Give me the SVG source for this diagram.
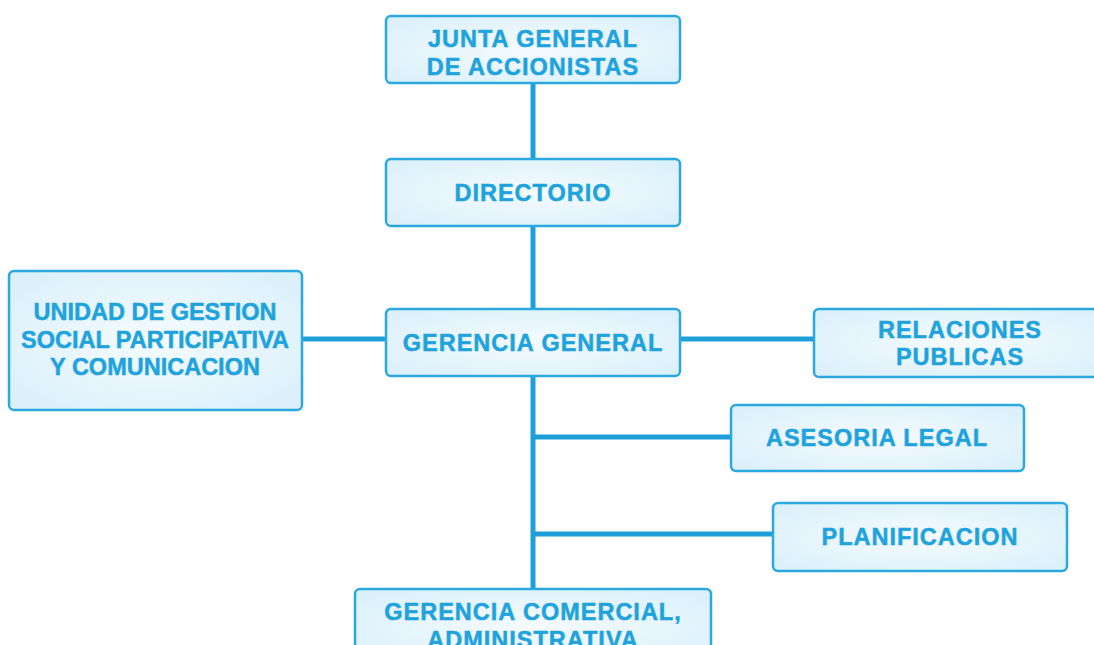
<svg xmlns="http://www.w3.org/2000/svg" width="1094" height="645" viewBox="0 0 1094 645">
  <defs>
    <radialGradient id="boxFill" cx="50%" cy="50%" r="70%">
      <stop offset="0" stop-color="#f4fbfe"/>
      <stop offset="1" stop-color="#d9effa"/>
    </radialGradient>
    <style>
      .box { fill: url(#boxFill); stroke: #2aa8e0; stroke-width: 2.5; }
      .lbl { font-family: "Liberation Sans", Arial, sans-serif; font-weight: bold; font-size: 23.5px; letter-spacing: 1px; fill: #1fa3dd; text-anchor: middle; stroke: #1fa3dd; stroke-width: 0.5; }
      .lbl.tight { letter-spacing: 0; }
      .wire { stroke: #1f9fda; stroke-width: 5; fill: none; }
    </style>
  </defs>
  <rect width="1094" height="645" fill="#ffffff"/>

  <g id="connectors">
    <line class="wire" x1="533" y1="83" x2="533" y2="590"/>
    <line class="wire" x1="302" y1="339" x2="386" y2="339"/>
    <line class="wire" x1="680" y1="339" x2="814" y2="339"/>
    <line class="wire" x1="533" y1="437" x2="731" y2="437"/>
    <line class="wire" x1="533" y1="534" x2="773" y2="534"/>
  </g>

  <g id="junta">
    <rect class="box" x="386" y="16" width="294" height="67" rx="5"/>
    <text class="lbl" x="533" y="47">JUNTA GENERAL</text>
    <text class="lbl" x="533" y="75">DE ACCIONISTAS</text>
  </g>

  <g id="directorio">
    <rect class="box" x="386" y="159" width="294" height="67" rx="5"/>
    <text class="lbl" x="533" y="201">DIRECTORIO</text>
  </g>

  <g id="gerencia-general">
    <rect class="box" x="386" y="309" width="294" height="67" rx="5"/>
    <text class="lbl" x="533" y="351">GERENCIA GENERAL</text>
  </g>

  <g id="unidad-gestion">
    <rect class="box" x="9" y="271" width="293" height="139" rx="5"/>
    <text class="lbl tight" x="155" y="320">UNIDAD DE GESTION</text>
    <text class="lbl tight" x="155" y="348">SOCIAL PARTICIPATIVA</text>
    <text class="lbl tight" x="155" y="375">Y COMUNICACION</text>
  </g>

  <g id="relaciones-publicas">
    <rect class="box" x="814" y="309" width="290" height="68" rx="5"/>
    <text class="lbl" x="960" y="338">RELACIONES</text>
    <text class="lbl" x="960" y="365">PUBLICAS</text>
  </g>

  <g id="asesoria-legal">
    <rect class="box" x="731" y="405" width="293" height="66" rx="5"/>
    <text class="lbl" x="877" y="446">ASESORIA LEGAL</text>
  </g>

  <g id="planificacion">
    <rect class="box" x="773" y="503" width="294" height="68" rx="5"/>
    <text class="lbl" x="920" y="545">PLANIFICACION</text>
  </g>

  <g id="gerencia-comercial">
    <rect class="box" x="355" y="589" width="356" height="75" rx="5"/>
    <text class="lbl" x="533" y="620">GERENCIA COMERCIAL,</text>
    <text class="lbl" x="533" y="648">ADMINISTRATIVA</text>
  </g>
</svg>
